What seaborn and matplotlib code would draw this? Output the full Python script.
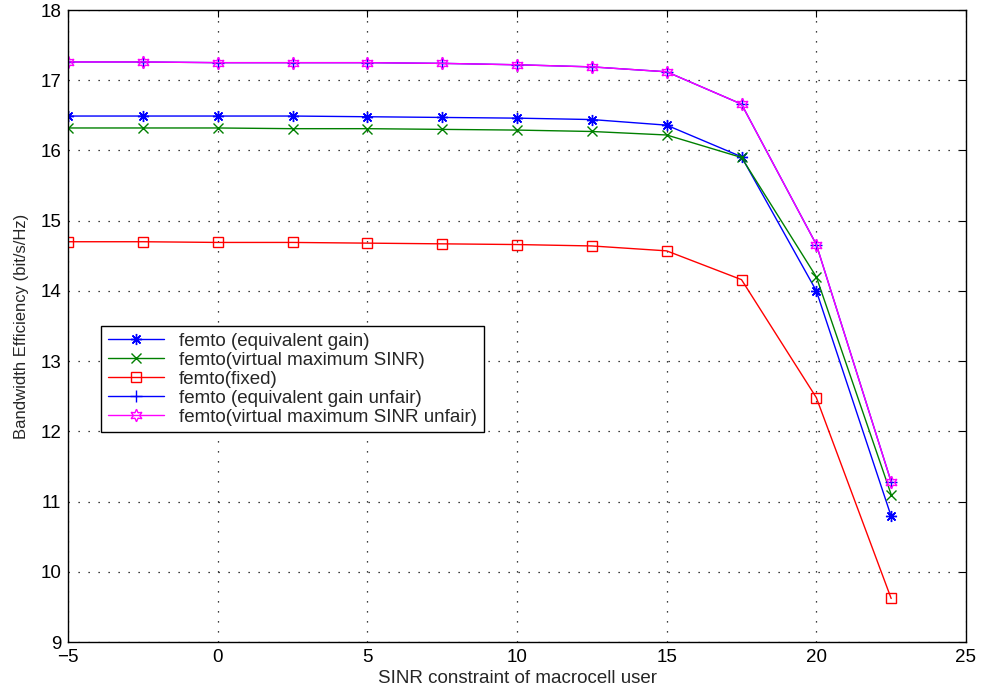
import matplotlib
matplotlib.use("Agg")
import matplotlib.pyplot as plt
import seaborn as sns
import pandas as pd

x_vals = [-5, -2.5, 0, 2.5, 5, 7.5, 10, 12.5, 15, 17.5, 20, 22.5]
eq_gain = [16.49, 16.49, 16.49, 16.49, 16.48, 16.47, 16.46, 16.44, 16.36, 15.91, 14.00, 10.79]
virt_max = [16.32, 16.32, 16.32, 16.31, 16.31, 16.30, 16.29, 16.27, 16.22, 15.90, 14.20, 11.10]
fixed = [14.70, 14.70, 14.69, 14.69, 14.68, 14.67, 14.66, 14.64, 14.57, 14.16, 12.48, 9.62]
eq_gain_unfair = [17.26, 17.26, 17.25, 17.25, 17.25, 17.24, 17.22, 17.19, 17.12, 16.66, 14.66, 11.28]
virt_max_unfair = [17.26, 17.26, 17.25, 17.25, 17.25, 17.24, 17.22, 17.19, 17.12, 16.66, 14.66, 11.28]

labels = ["femto (equivalent gain)", "femto(virtual maximum SINR)", "femto(fixed)",
          "femto (equivalent gain unfair)", "femto(virtual maximum SINR unfair)"]
series = [eq_gain, virt_max, fixed, eq_gain_unfair, virt_max_unfair]
colors = ["#0000ff", "#008000", "#ff0000", "#0000ff", "#ff00ff"]
markers = [(8, 2, 0), "x", "s", "+", (6, 1, 0)]
msizes = [8, 6.5, 7, 9, 9]

sns.set_style("white")
plt.rcParams['font.family'] = ['Liberation Sans', 'DejaVu Sans']

fig = plt.figure(figsize=(9.84, 6.98), dpi=100)
ax = fig.add_axes([68/984, 56/698, 898/984, 632/698])

for lab, vals, c, m, ms in zip(labels, series, colors, markers, msizes):
    df = pd.DataFrame({"x": x_vals, "y": vals})
    sns.lineplot(data=df, x="x", y="y", ax=ax, color=c, marker=m, markersize=ms,
                 markerfacecolor="none", markeredgecolor=c, markeredgewidth=1.0,
                 linewidth=1.0, label=lab, sort=False, errorbar=None)

ax.set_xlim(-5, 25)
ax.set_ylim(9, 18)
ax.set_xticks([-5, 0, 5, 10, 15, 20, 25])
ax.set_yticks(list(range(9, 19)))
ax.set_xticklabels(["\u22125", "0", "5", "10", "15", "20", "25"])
ax.grid(True, linestyle=(0, (1, 7)), color="black", linewidth=0.9)
ax.tick_params(direction="in", top=True, right=True, length=5, width=0.8,
               labelsize=13.5, colors="black", pad=5)
for s in ax.spines.values():
    s.set_visible(True)
    s.set_color("black")
    s.set_linewidth(1.0)
ax.set_xlabel("SINR constraint of macrocell user", fontsize=13.5, labelpad=3)
ax.set_ylabel("Bandwidth Efficiency (bit/s/Hz)", fontsize=12, labelpad=8)

leg = ax.legend(loc="lower left", bbox_to_anchor=(0.037, 0.332), fontsize=13.5,
                frameon=True, fancybox=False, edgecolor="black", framealpha=1,
                borderpad=0.35, labelspacing=0.1, handlelength=3.0, handletextpad=0.8,
                borderaxespad=0)
leg.get_frame().set_linewidth(1.0)

fig.savefig("out.png", dpi=100)
